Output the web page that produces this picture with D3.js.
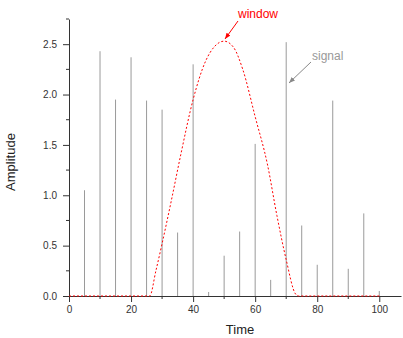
<!DOCTYPE html>
<html>
<head>
<meta charset="utf-8">
<script src="https://cdn.jsdelivr.net/npm/d3@7"></script>
<style>
  body { margin: 0; background: #fff; }
  text { font-family: "Liberation Sans", Arial, sans-serif; }
</style>
</head>
<body>
<svg width="403" height="338"></svg>
<script>
// signal stems
const sigX = [5, 10, 15, 20, 25, 30, 35, 40, 45, 50, 55, 60, 65, 70, 75, 80, 85, 90, 95, 100]
const sigY = [1.05, 2.43, 1.95, 2.37, 1.94, 1.85, 0.63, 2.30, 0.04, 0.40, 0.64, 1.51, 0.16, 2.52, 0.70, 0.31, 1.94, 0.27, 0.82, 0.05]

// window curve
const winX = [0, 26, 28, 30, 33, 36, 40, 44, 47, 50, 53, 56, 60, 64, 67, 70, 73, 74, 100]
const winY = [0, 0, 0.25, 0.52, 0.95, 1.4, 1.95, 2.33, 2.48, 2.53, 2.47, 2.25, 1.78, 1.3, 0.8, 0.36, 0.02, 0, 0]

const yTicks = [0, 0.5, 1.0, 1.5, 2.0, 2.5]
const xTicks = [0, 20, 40, 60, 80, 100]

const svg = d3.select("svg")
const margin = {left: 69, top: 19, right: 2, bottom: 42}
const width = 403, height = 338

const x = d3.scaleLinear().domain([0, 107]).range([margin.left, width - margin.right])
const y = d3.scaleLinear().domain([0, 2.75]).range([height - margin.bottom, margin.top])

// stems
svg.append("g")
    .selectAll("line")
    .data(sigX.map((d, i) => ({x: d, y: sigY[i]})))
    .enter()
    .append("line")
    .attr("x1", d => x(d.x)).attr("x2", d => x(d.x))
    .attr("y1", y(0)).attr("y2", d => y(d.y))
    .attr("stroke", "#9a9a9a")
    .attr("stroke-width", 1)

// axes
const minorX = d3.range(0, 101, 10).filter(d => d % 20 != 0)
const minorY = d3.range(0.25, 2.76, 0.5)

const xAxis = svg.append("g")
    .attr("transform", `translate(0,${y(0)})`)
    .call(d3.axisBottom(x).tickValues(xTicks).tickFormat(d3.format("d")).tickSize(6).tickSizeOuter(0))
xAxis.append("g").selectAll("line")
    .data(minorX).enter().append("line")
    .attr("x1", d => x(d)).attr("x2", d => x(d))
    .attr("y1", 0).attr("y2", 3)
    .attr("stroke", "#333")

const yAxis = svg.append("g")
    .attr("transform", `translate(${x(0)},0)`)
    .call(d3.axisLeft(y).tickValues(yTicks).tickFormat(d3.format(".1f")).tickSize(6).tickSizeOuter(0))
yAxis.append("g").selectAll("line")
    .data(minorY).enter().append("line")
    .attr("y1", d => y(d)).attr("y2", d => y(d))
    .attr("x1", 0).attr("x2", -3)
    .attr("stroke", "#333")

svg.selectAll(".domain").attr("stroke", "#333")
svg.selectAll(".tick line").attr("stroke", "#333")
svg.selectAll(".tick text")
    .attr("fill", "#333")
    .style("font-size", "10px")
yAxis.selectAll(".tick text").attr("x", -12)
xAxis.selectAll(".tick text").attr("y", 10)

// window (on top of the axis)
const line = d3.line()
    .x(d => x(d[0]))
    .y(d => y(d[1]))
    .curve(d3.curveMonotoneX)

svg.append("path")
    .datum(winX.map((d, i) => [d, winY[i]]))
    .attr("d", line)
    .attr("fill", "none")
    .attr("stroke", "#ff0000")
    .attr("stroke-width", 1)
    .attr("stroke-dasharray", "2,2")

// axis titles
svg.append("text")
    .attr("x", 240).attr("y", 334)
    .attr("text-anchor", "middle")
    .style("font-size", "13px")
    .attr("fill", "#222")
    .text("Time")

svg.append("text")
    .attr("transform", "translate(15,162) rotate(-90)")
    .attr("text-anchor", "middle")
    .style("font-size", "13px")
    .attr("fill", "#222")
    .text("Amplitude")

// annotations
svg.append("defs").selectAll("marker")
    .data([["arrRed", "#ff0000"], ["arrGray", "#888"]])
    .enter().append("marker")
    .attr("id", d => d[0])
    .attr("viewBox", "0 0 10 10")
    .attr("refX", 10).attr("refY", 5)
    .attr("markerWidth", 6).attr("markerHeight", 6)
    .attr("orient", "auto")
    .append("path")
    .attr("d", "M0,1L10,5L0,9z")
    .attr("fill", d => d[1])

svg.append("line")
    .attr("x1", 238).attr("y1", 21)
    .attr("x2", 225).attr("y2", 39)
    .attr("stroke", "#ff0000")
    .attr("marker-end", "url(#arrRed)")
svg.append("text")
    .attr("x", 238).attr("y", 18)
    .style("font-size", "12px")
    .attr("fill", "#ff0000")
    .text("window")

svg.append("line")
    .attr("x1", 311).attr("y1", 62)
    .attr("x2", 289).attr("y2", 83)
    .attr("stroke", "#888")
    .attr("marker-end", "url(#arrGray)")
svg.append("text")
    .attr("x", 312).attr("y", 60)
    .style("font-size", "12px")
    .attr("fill", "#999")
    .text("signal")
</script>
</body>
</html>
